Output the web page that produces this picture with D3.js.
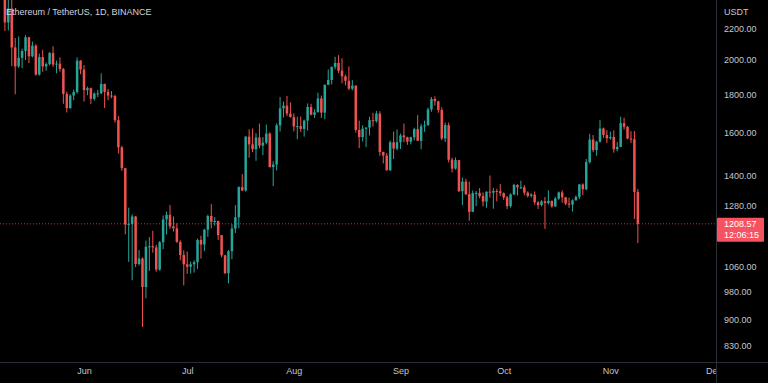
<!DOCTYPE html>
<html>
<head>
<meta charset="utf-8">
<script src="https://cdn.jsdelivr.net/npm/d3@7"></script>
<style>
  html, body { margin: 0; padding: 0; background: #000; }
  svg { display: block; }
  text { font-family: "Liberation Sans", Arial, sans-serif; }
</style>
</head>
<body>
<script>
// ETH/USDT daily candles, 2022-05-09 .. 2022-11-09
var firstDay = "2022-05-09";
var lastDay = "2022-11-09";

var open = [
  2518, 2245, 2343, 2079, 1961, 2014, 2056, 2145, 2023, 2090, 1912, 2018, 1961, 1975, 2043, 1972, 1978, 1945, 1802, 1725, 1793, 1812, 1996,
  1942, 1823, 1834, 1775, 1804, 1805, 1858, 1813, 1793, 1790, 1662, 1529, 1434, 1206, 1208, 1236, 1068, 1086, 995, 1126, 1128, 1124, 1050, 1142, 1225, 1242, 1199, 1192, 1143, 1098,
  1067, 1059, 1067, 1074, 1150, 1134, 1187, 1238, 1216, 1219, 1167, 1097, 1038, 1111, 1191, 1233, 1353, 1339, 1580, 1543, 1520, 1576, 1537, 1551, 1595, 1439, 1450, 1636, 1724, 1738, 1696,
  1678, 1630, 1632, 1618, 1660, 1731, 1690, 1703, 1777, 1701, 1853, 1881, 1958, 1982, 1935, 1902, 1876, 1831, 1848, 1613, 1578, 1619, 1625, 1662, 1657, 1696, 1507, 1491, 1425, 1553, 1523,
  1553, 1586, 1577, 1556, 1577, 1617, 1560, 1631, 1636, 1718, 1774, 1761, 1715, 1571, 1637, 1472, 1432, 1470, 1336, 1376, 1324, 1254, 1328, 1329, 1316, 1294, 1334, 1330, 1337, 1336,
  1328, 1311, 1276, 1323, 1362, 1352, 1352, 1330, 1317, 1322, 1291, 1280, 1295, 1288, 1297, 1275, 1306, 1331, 1311, 1286, 1282, 1299, 1313, 1364, 1344, 1461, 1566, 1516, 1556, 1620, 1588,
  1572, 1578, 1520, 1531, 1647, 1629, 1571, 1568, 1333
];
var high = [
  2524, 2452, 2451, 2140, 2150, 2070, 2158, 2148, 2117, 2100, 2040, 2064, 1985, 2050, 2086, 1996, 2016, 1952, 1815, 1800, 1826, 2016, 2000,
  1970, 1843, 1838, 1810, 1824, 1920, 1860, 1830, 1818, 1797, 1683, 1536, 1434, 1270, 1244, 1238, 1115, 1090, 1148, 1160, 1183, 1133, 1146, 1240, 1255, 1280, 1236, 1211, 1149, 1114,
  1110, 1076, 1080, 1155, 1165, 1190, 1243, 1284, 1234, 1220, 1167, 1099, 1115, 1207, 1280, 1356, 1408, 1582, 1616, 1620, 1596, 1645, 1578, 1640, 1601, 1465, 1646, 1785, 1760, 1790, 1756,
  1697, 1680, 1681, 1665, 1750, 1748, 1719, 1809, 1793, 1855, 1943, 1960, 2020, 2030, 2010, 1912, 1960, 1880, 1850, 1660, 1636, 1625, 1680, 1700, 1710, 1708, 1509, 1503, 1561, 1605, 1615,
  1595, 1645, 1580, 1580, 1624, 1688, 1643, 1660, 1728, 1785, 1789, 1765, 1729, 1650, 1650, 1481, 1482, 1471, 1393, 1388, 1376, 1339, 1337, 1349, 1331, 1335, 1402, 1350, 1346, 1366,
  1331, 1316, 1327, 1367, 1365, 1380, 1362, 1335, 1328, 1335, 1296, 1300, 1312, 1340, 1298, 1313, 1335, 1340, 1313, 1310, 1303, 1319, 1366, 1369, 1475, 1594, 1588, 1560, 1663, 1625, 1612,
  1605, 1611, 1554, 1680, 1675, 1632, 1607, 1607, 1345
];
var low = [
  2186, 2191, 1963, 1800, 1952, 1950, 2000, 1981, 2016, 1906, 1906, 1929, 1935, 1966, 1958, 1920, 1930, 1748, 1702, 1721, 1767, 1803, 1915,
  1760, 1795, 1746, 1765, 1785, 1802, 1725, 1767, 1778, 1650, 1500, 1422, 1170, 1075, 1016, 1058, 1063, 880, 961, 1046, 1106, 1043, 1046, 1118, 1170, 1190, 1180, 1140, 1080, 1000,
  1036, 1037, 1040, 1052, 1086, 1111, 1161, 1192, 1202, 1150, 1090, 1036, 1006, 1084, 1175, 1192, 1336, 1334, 1481, 1507, 1467, 1525, 1493, 1543, 1437, 1357, 1424, 1605, 1676, 1683, 1676,
  1606, 1567, 1603, 1580, 1609, 1687, 1674, 1703, 1674, 1667, 1851, 1855, 1943, 1922, 1862, 1850, 1823, 1822, 1600, 1525, 1557, 1530, 1586, 1630, 1649, 1490, 1455, 1423, 1422, 1475, 1515,
  1521, 1553, 1541, 1543, 1562, 1560, 1520, 1604, 1635, 1706, 1738, 1701, 1563, 1554, 1460, 1415, 1428, 1333, 1280, 1320, 1220, 1253, 1276, 1307, 1275, 1270, 1310, 1266, 1295, 1316,
  1301, 1265, 1270, 1320, 1319, 1345, 1320, 1310, 1310, 1282, 1265, 1275, 1190, 1282, 1270, 1273, 1301, 1290, 1280, 1270, 1255, 1298, 1304, 1320, 1340, 1455, 1506, 1490, 1551, 1574, 1550,
  1565, 1504, 1510, 1530, 1615, 1567, 1550, 1227, 1139
];
var close = [
  2245, 2343, 2079, 1961, 2014, 2056, 2145, 2023, 2090, 1912, 2018, 1961, 1975, 2043, 1972, 1978, 1945, 1802, 1725, 1793, 1812, 1996, 1942,
  1823, 1834, 1775, 1804, 1805, 1858, 1813, 1793, 1790, 1662, 1529, 1434, 1206, 1208, 1236, 1068, 1086, 995, 1126, 1128, 1124, 1050, 1142, 1225, 1242, 1199, 1192, 1143, 1098, 1067,
  1059, 1067, 1074, 1150, 1134, 1187, 1238, 1216, 1219, 1167, 1097, 1038, 1111, 1191, 1233, 1353, 1339, 1580, 1543, 1520, 1576, 1537, 1551, 1595, 1439, 1450, 1636, 1724, 1738, 1696, 1678,
  1630, 1632, 1618, 1660, 1731, 1690, 1703, 1777, 1701, 1853, 1881, 1958, 1982, 1935, 1902, 1876, 1831, 1848, 1613, 1578, 1619, 1625, 1662, 1657, 1696, 1507, 1491, 1425, 1553, 1523, 1553,
  1586, 1577, 1556, 1577, 1617, 1560, 1631, 1636, 1718, 1774, 1761, 1715, 1571, 1637, 1472, 1432, 1470, 1336, 1376, 1324, 1254, 1328, 1329, 1316, 1294, 1334, 1330, 1337, 1336, 1328,
  1311, 1276, 1323, 1362, 1352, 1352, 1330, 1317, 1322, 1291, 1280, 1295, 1288, 1297, 1275, 1306, 1331, 1311, 1286, 1282, 1299, 1313, 1364, 1344, 1461, 1566, 1516, 1556, 1620, 1588, 1572,
  1578, 1520, 1531, 1647, 1629, 1571, 1568, 1333, 1208.57
];

var priceTicks = [2200, 2000, 1800, 1600, 1400, 1280, 1060, 980, 900, 830];
var lastPrice = 1208.57;
var countdown = "12:06:15";
var title = "Ethereum / TetherUS, 1D, BINANCE";
var currency = "USDT";

var width = 768, height = 383;
var plotW = 716, plotH = 362;
var up = "#26a69a", down = "#ef5350";

var days = d3.utcDay.range(new Date(firstDay), d3.utcDay.offset(new Date(lastDay), 1));
var data = days.map(function(d, i) {
  return {date: d, o: open[i], h: high[i], l: low[i], c: close[i]};
});

var svg = d3.select("body").append("svg")
    .attr("width", width)
    .attr("height", height);

svg.append("rect").attr("width", width).attr("height", height).attr("fill", "#000");

svg.append("clipPath").attr("id", "plot")
  .append("rect").attr("width", plotW).attr("height", plotH);

// ~3.44px per day, Jun 1 sits at x=84
var x = d3.scaleUtc()
    .domain([new Date("2022-06-01"), new Date("2022-12-01")])
    .range([84, 84 + 183 * 3.44]);
var y = d3.scaleLog()
    .domain([830, 2200])
    .range([346, 29]);

var g = svg.append("g").attr("clip-path", "url(#plot)");

var candle = g.selectAll(".candle")
  .data(data)
  .enter().append("g")
    .attr("class", "candle");

candle.append("rect")
    .attr("x", function(d) { return x(d.date) - 0.5; })
    .attr("y", function(d) { return y(d.h); })
    .attr("width", 1)
    .attr("height", function(d) { return y(d.l) - y(d.h); })
    .attr("fill", function(d) { return d.c >= d.o ? up : down; });

candle.append("rect")
    .attr("x", function(d) { return x(d.date) - 1.25; })
    .attr("y", function(d) { return y(Math.max(d.o, d.c)); })
    .attr("width", 2.5)
    .attr("height", function(d) { return Math.max(1, Math.abs(y(d.o) - y(d.c))); })
    .attr("fill", function(d) { return d.c >= d.o ? up : down; });

// last price dotted line
g.append("line")
    .attr("x1", 0).attr("x2", plotW)
    .attr("y1", y(lastPrice)).attr("y2", y(lastPrice))
    .attr("stroke", "#d9535e")
    .attr("stroke-opacity", 0.75)
    .attr("stroke-dasharray", "1,2");

svg.append("text")
    .attr("x", 6).attr("y", 15)
    .attr("fill", "#d1d4dc")
    .attr("font-size", 9)
    .text(title);

// separators
svg.append("line")
    .attr("x1", plotW + 0.5).attr("x2", plotW + 0.5)
    .attr("y1", 0).attr("y2", height)
    .attr("stroke", "#2a2e39");
svg.append("line")
    .attr("x1", 0).attr("x2", width)
    .attr("y1", plotH + 0.5).attr("y2", plotH + 0.5)
    .attr("stroke", "#2a2e39");

// price axis
var yAxis = svg.append("g")
    .attr("transform", "translate(" + plotW + ",0)")
    .call(d3.axisRight(y).tickValues(priceTicks).tickFormat(d3.format(".2f")).tickSize(0).tickPadding(8));
yAxis.select(".domain").remove();
yAxis.selectAll("text")
    .attr("fill", "#c3c6ce")
    .attr("font-size", 9)
    .attr("font-family", "Liberation Sans, Arial, sans-serif");

svg.append("text")
    .attr("x", 724).attr("y", 15)
    .attr("fill", "#c3c6ce")
    .attr("font-size", 9)
    .text(currency);

svg.append("rect")
    .attr("x", plotW + 1).attr("y", y(lastPrice) - 6)
    .attr("width", 47).attr("height", 24)
    .attr("rx", 1)
    .attr("fill", "#f7525f");
svg.append("text")
    .attr("x", 724).attr("y", y(lastPrice) + 3)
    .attr("fill", "#fff")
    .attr("font-size", 9)
    .text(d3.format(".2f")(lastPrice));
svg.append("text")
    .attr("x", 724).attr("y", y(lastPrice) + 14)
    .attr("fill", "#fff")
    .attr("font-size", 9)
    .text(countdown);

// time axis, clipped at the price scale
svg.append("clipPath").attr("id", "taxis")
  .append("rect").attr("width", plotW).attr("height", height - plotH);
var xAxis = svg.append("g")
    .attr("transform", "translate(0," + plotH + ")")
    .attr("clip-path", "url(#taxis)")
    .call(d3.axisBottom(x).ticks(d3.utcMonth.every(1)).tickFormat(d3.utcFormat("%b")).tickSize(0).tickPadding(6));
xAxis.select(".domain").remove();
xAxis.selectAll("text")
    .attr("fill", "#c3c6ce")
    .attr("font-size", 9)
    .attr("font-family", "Liberation Sans, Arial, sans-serif");
</script>
</body>
</html>
